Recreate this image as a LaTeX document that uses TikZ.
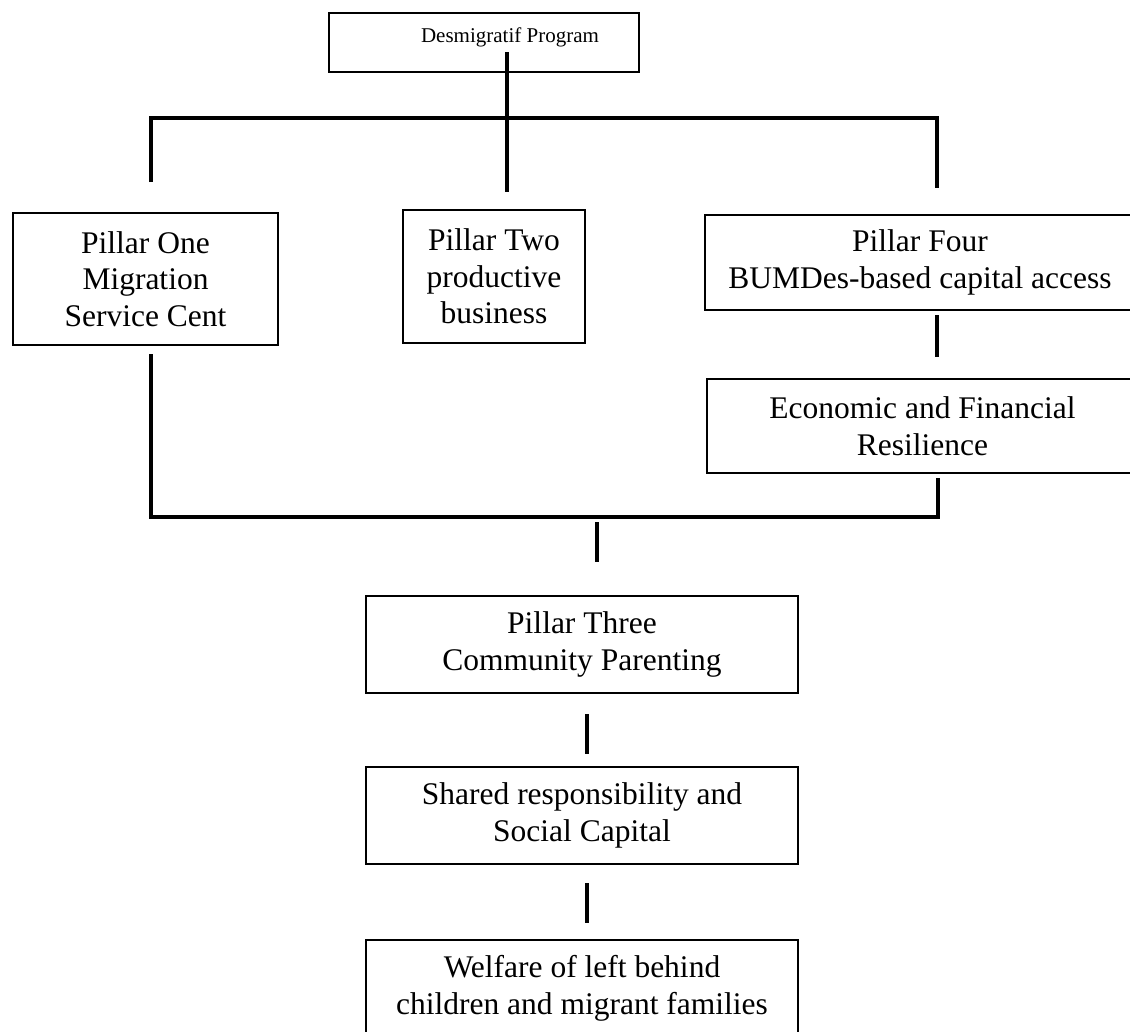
\documentclass[tikz,border=0pt]{standalone}
\usepackage{fontspec}
\setmainfont{Liberation Serif}
\begin{document}
\begin{tikzpicture}[x=1pt,y=-1pt,
  box/.style={draw=black,line width=1.4pt,inner sep=0pt,align=center,
    font=\fontsize{31.5}{36.5}\selectfont},
  conn/.style={line width=4pt,line cap=butt}]
\useasboundingbox (0,0) rectangle (1130,1031);
% boxes
\node[box,minimum width=310pt,minimum height=59pt] (top) at (484,42.5) {};
\node[inner sep=0pt,font=\fontsize{21}{25}\selectfont,anchor=base] (toptext) at (510,42) {Desmigratif Program};
\node[box,minimum width=265pt,minimum height=132pt] (p1) at (145.5,279) {Pillar One\\Migration\\Service Cent};
\node[box,minimum width=182pt,minimum height=133pt] (p2) at (494,276.5) {Pillar Two\\productive\\business};
\node[box,minimum width=430pt,minimum height=95pt] (p4) at (920,262.5) {Pillar Four\\BUMDes-based capital access};
\node[box,minimum width=431pt,minimum height=94pt] (econ) at (922.5,426) {Economic and Financial\\Resilience};
\node[box,minimum width=432pt,minimum height=97pt] (p3) at (582,644.5) {Pillar Three\\Community Parenting};
\node[box,minimum width=432pt,minimum height=97pt] (shared) at (582,815.5) {Shared responsibility and\\Social Capital};
\node[box,minimum width=432pt,minimum height=97pt] (welfare) at (582,988.5) {Welfare of left behind\\children and migrant families};
% connector points
\coordinate (tstart) at (507,52);
\coordinate (bar1L) at (151,118);
\coordinate (bar1R) at (937,118);
\coordinate (p1up) at (151,182);
\coordinate (p2up) at (507,192);
\coordinate (p4up) at (937,188);
\coordinate (p4dn) at (937,315);
\coordinate (econup) at (937,357);
\coordinate (econdn) at (938,478);
\coordinate (p1dn) at (151,354);
\coordinate (bar2L) at (151,517);
\coordinate (bar2R) at (938,517);
\coordinate (midA) at (597,522);
\coordinate (midB) at (597,562);
\coordinate (p3dn) at (587,714);
\coordinate (sharedup) at (587,754);
\coordinate (shareddn) at (587,883);
\coordinate (welfareup) at (587,923);
% connectors
\draw[conn] (tstart) -- (p2up);
\draw[conn] (p1up) -- (bar1L) -- (bar1R) -- (p4up);
\draw[conn] (p4dn) -- (econup);
\draw[conn] (p1dn) -- (bar2L) -- (bar2R) -- (econdn);
\draw[conn] (midA) -- (midB);
\draw[conn] (p3dn) -- (sharedup);
\draw[conn] (shareddn) -- (welfareup);
\end{tikzpicture}
\end{document}
